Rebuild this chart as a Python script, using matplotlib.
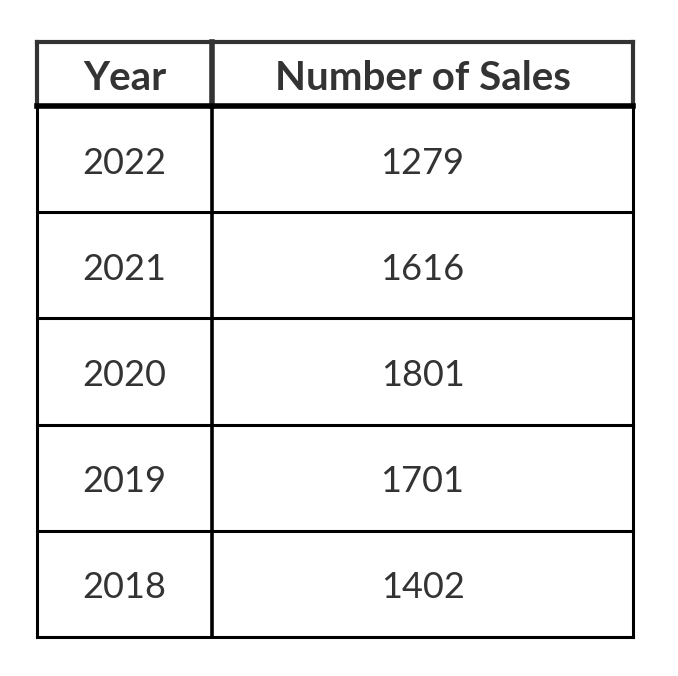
import matplotlib.pyplot as plt

# table data
years = ["2022", "2021", "2020", "2019", "2018"]
sales = ["1279", "1616", "1801", "1701", "1402"]
headers = ["Year", "Number of Sales"]

fig = plt.figure(figsize=(6.78, 6.76), dpi=100)
ax = fig.add_axes([0, 0, 1, 1])
ax.set_xlim(0, 678)
ax.set_ylim(676, 0)
ax.axis("off")

left, mid, right = 37, 212, 633
top, head_bot = 42, 106
row_h = 106.2
bottom = head_bot + row_h * len(years)

# header box in dark grey
hc = "#333333"
ax.plot([left, right], [top, top], color=hc, lw=3)
ax.plot([left, left], [top, head_bot], color=hc, lw=3)
ax.plot([right, right], [top, head_bot], color=hc, lw=3)
ax.plot([mid, mid], [top, head_bot], color=hc, lw=4)
ax.plot([left, right], [head_bot, head_bot], color="black", lw=4)

# body grid
for i in range(1, len(years) + 1):
    y = head_bot + row_h * i
    ax.plot([left, right], [y, y], color="black", lw=2.2)
for x in (left, mid, right):
    ax.plot([x, x], [head_bot, bottom], color="black", lw=2.2 if x != mid else 2.6)

tc = "#333333"
hy = (top + head_bot) / 2 + 4
ax.text((left + mid) / 2, hy, headers[0], ha="center", va="center",
        fontsize=29, fontweight="bold", family="Lato", color=tc)
ax.text((mid + right) / 2, hy, headers[1], ha="center", va="center",
        fontsize=29, fontweight="bold", family="Lato", color=tc)
for i, (yr, s) in enumerate(zip(years, sales)):
    yc = head_bot + row_h * (i + 0.5) + 4
    ax.text((left + mid) / 2, yc, yr, ha="center", va="center", fontsize=26, family="Lato", color=tc)
    ax.text((mid + right) / 2, yc, s, ha="center", va="center", fontsize=26, family="Lato", color=tc)

fig.savefig("out.png", dpi=100, facecolor="white")
